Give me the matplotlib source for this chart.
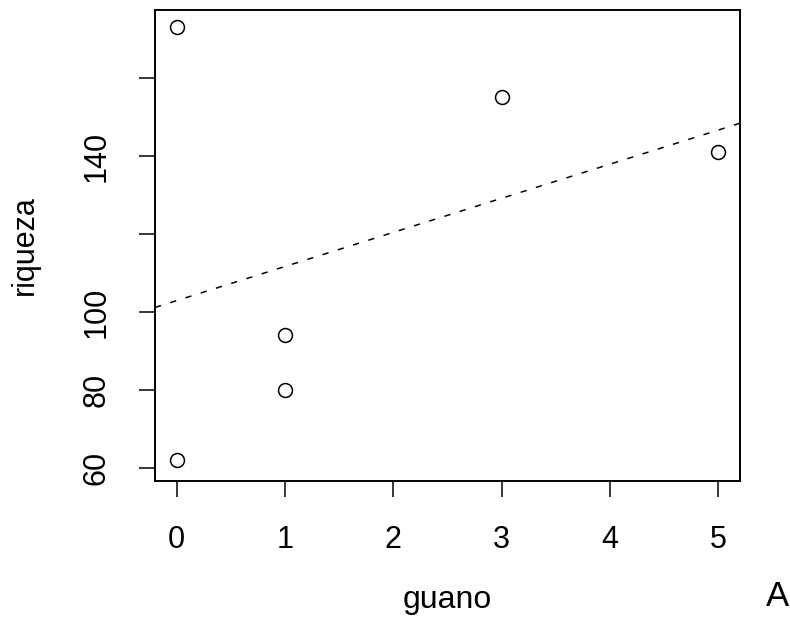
import numpy as np
import matplotlib.pyplot as plt

plt.rcParams['font.family'] = ['Liberation Sans', 'DejaVu Sans']
plt.rcParams['lines.scale_dashes'] = False

# guano vs riqueza
guano = np.array([0, 0, 1, 1, 3, 5])
riqueza = np.array([173, 62, 94, 80, 155, 141])

xticks = [0, 1, 2, 3, 4, 5]
yticks = [60, 80, 100, 120, 140, 160]
yticklabels = ['60', '80', '100', '', '140', '']

# regression line
slope, intercept = np.polyfit(guano, riqueza, 1)

fig = plt.figure(figsize=(7.9, 6.21), dpi=100)
ax = fig.add_axes([155 / 790, 140 / 621, 585 / 790, 471 / 621])

ax.plot(guano, riqueza, 'o', markersize=10, markerfacecolor='none',
        markeredgecolor='black', markeredgewidth=1.1)
ax.axline((0, intercept), slope=slope, color='black', linewidth=1.1,
          dashes=(4.5, 7))

ax.set_xlim(-0.2, 5.2)
ax.set_ylim(56.7, 177.4)
ax.set_xticks(xticks)
ax.set_yticks(yticks)
ax.set_yticklabels(yticklabels, rotation=90, va='center')

for s in ax.spines.values():
    s.set_linewidth(1.4)
ax.tick_params(axis='both', length=11.5, width=1.1, labelsize=22)
ax.tick_params(axis='x', pad=20)
ax.tick_params(axis='y', pad=20)

ax.set_xlabel('guano', fontsize=23, labelpad=22)
ax.set_ylabel('riqueza', fontsize=22, labelpad=30)

fig.text(777 / 790, 1 - 596 / 621, 'A', fontsize=25, ha='center', va='center')

fig.savefig('out.png', dpi=100)
